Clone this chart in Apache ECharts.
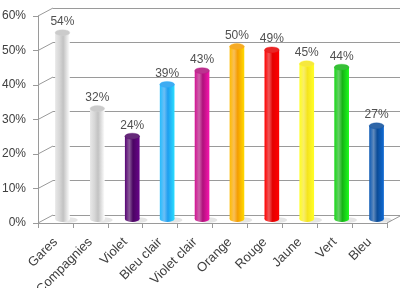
<!DOCTYPE html>
<html><head><meta charset="utf-8">
<script src="https://cdn.jsdelivr.net/npm/echarts@6/dist/echarts.min.js"></script>
<style>html,body{margin:0;padding:0;background:#fff}#c{width:400px;height:288px}</style>
</head><body><div id="c"></div>
<script>
const categories = ['Gares','Compagnies','Violet','Bleu clair','Violet clair','Orange','Rouge','Jaune','Vert','Bleu'];
const values = [0.54,0.32,0.24,0.39,0.43,0.50,0.49,0.45,0.44,0.27];
const barColors = ['#c2c2c2','#c2c2c2','#4a0462','#1e9ef0','#b0107c','#f59d00','#e40000','#f5e41c','#14b414','#0b4c98'];
const yTicks = [0,0.1,0.2,0.3,0.4,0.5,0.6];

const DX = 15, DY = -8;      // depth of the 3D box
const MX = 7, MY = -4;       // bar position at mid depth
const FONT = '"Liberation Sans", Arial, sans-serif';
const lineCol = '#9a9a9a';

const chart = echarts.init(document.getElementById('c'), null, {renderer:'canvas'});
const lift = echarts.color.lift;

function cylinder(params, api){
  const i = api.value(0), v = api.value(1);
  const top = api.coord([i, v]);
  const base = api.coord([i, 0]);
  const bw = api.size([1,0])[0] * 0.42;
  const rx = bw/2, ry = 3;
  const cx = top[0] + MX, ty = top[1] + MY, by = base[1] + MY;
  const c = barColors[params.dataIndex];
  const grad = new echarts.graphic.LinearGradient(0,0,1,0,[
    {offset:0, color: lift(c,-0.2)},
    {offset:0.3, color: lift(c,0.35)},
    {offset:0.55, color: c},
    {offset:1, color: lift(c,-0.4)}
  ]);
  return {type:'group', children:[
    {type:'circle', x: cx+6, y: by+1, scaleY: 0.3, shape:{cx:0,cy:0,r:rx+2}, style:{fill:'rgba(0,0,0,0.10)'}},
    {type:'circle', x: cx, y: by, scaleY: ry/rx, shape:{cx:0,cy:0,r:rx}, style:{fill:grad}},
    {type:'rect', shape:{x: cx-rx, y: ty, width: bw, height: by-ty}, style:{fill:grad}},
    {type:'circle', x: cx, y: ty, scaleY: ry/rx, shape:{cx:0,cy:0,r:rx}, style:{fill: lift(c,0.15), stroke: lift(c,-0.1), lineWidth:0.5}},
    {type:'text', x: cx, y: ty - ry - 2, style:{text: Math.round(v*100)+'%', font:'12px '+FONT, fill:'#505050', align:'center', verticalAlign:'bottom'}}
  ]};
}

function frame(params, api){
  const v = api.value(0);
  const half = api.size([1,0])[0]/2;
  const p = api.coord([0, v]);
  const lx = p[0] - half;
  const children = [
    {type:'line', shape:{x1: lx, y1: p[1], x2: lx+DX, y2: p[1]+DY}, style:{stroke: lineCol, lineWidth:1}}
  ];
  if (v === 0) {
    const r = api.coord([categories.length-1, 0]);
    const rxp = r[0] + half;
    children.push({type:'line', shape:{x1: rxp, y1: r[1], x2: rxp+DX, y2: r[1]+DY}, style:{stroke: lineCol, lineWidth:1}});
  }
  return {type:'group', children};
}

chart.setOption({
  animation:false,
  grid:[
    {left:38, top:16, width:349, height:207, containLabel:false, outerBoundsMode:'none'},
    {left:38+DX, top:16+DY, width:349, height:207, containLabel:false, outerBoundsMode:'none'}
  ],
  xAxis:[
    {gridIndex:0, type:'category', data:categories,
     axisLine:{show:true, lineStyle:{color:lineCol}},
     axisTick:{show:true, length:5, alignWithLabel:false, lineStyle:{color:lineCol}},
     axisLabel:{rotate:45, fontSize:13, fontFamily:FONT, color:'#404040', margin:17, interval:0}},
    {gridIndex:1, type:'category', data:categories, show:false}
  ],
  yAxis:[
    {gridIndex:0, type:'value', min:0, max:0.6, interval:0.1,
     axisLine:{show:true, lineStyle:{color:lineCol}},
     axisTick:{show:true, length:5, lineStyle:{color:lineCol}},
     splitLine:{show:false},
     axisLabel:{fontSize:12, fontFamily:FONT, color:'#404040', margin:12,
       formatter: v => Math.round(v*100)+'%'}},
    {gridIndex:1, type:'value', min:0, max:0.6, interval:0.1,
     axisLine:{show:false}, axisTick:{show:false}, axisLabel:{show:false},
     splitLine:{show:true, lineStyle:{color:lineCol, width:1}}}
  ],
  series:[
    {type:'custom', xAxisIndex:0, yAxisIndex:0, clip:false, silent:true,
     data: yTicks.map(t=>[t]), renderItem: frame, z:1},
    {type:'custom', xAxisIndex:0, yAxisIndex:0, clip:false, silent:true,
     data: values.map((v,i)=>[i,v]), renderItem: cylinder, z:5}
  ]
});
</script></body></html>
